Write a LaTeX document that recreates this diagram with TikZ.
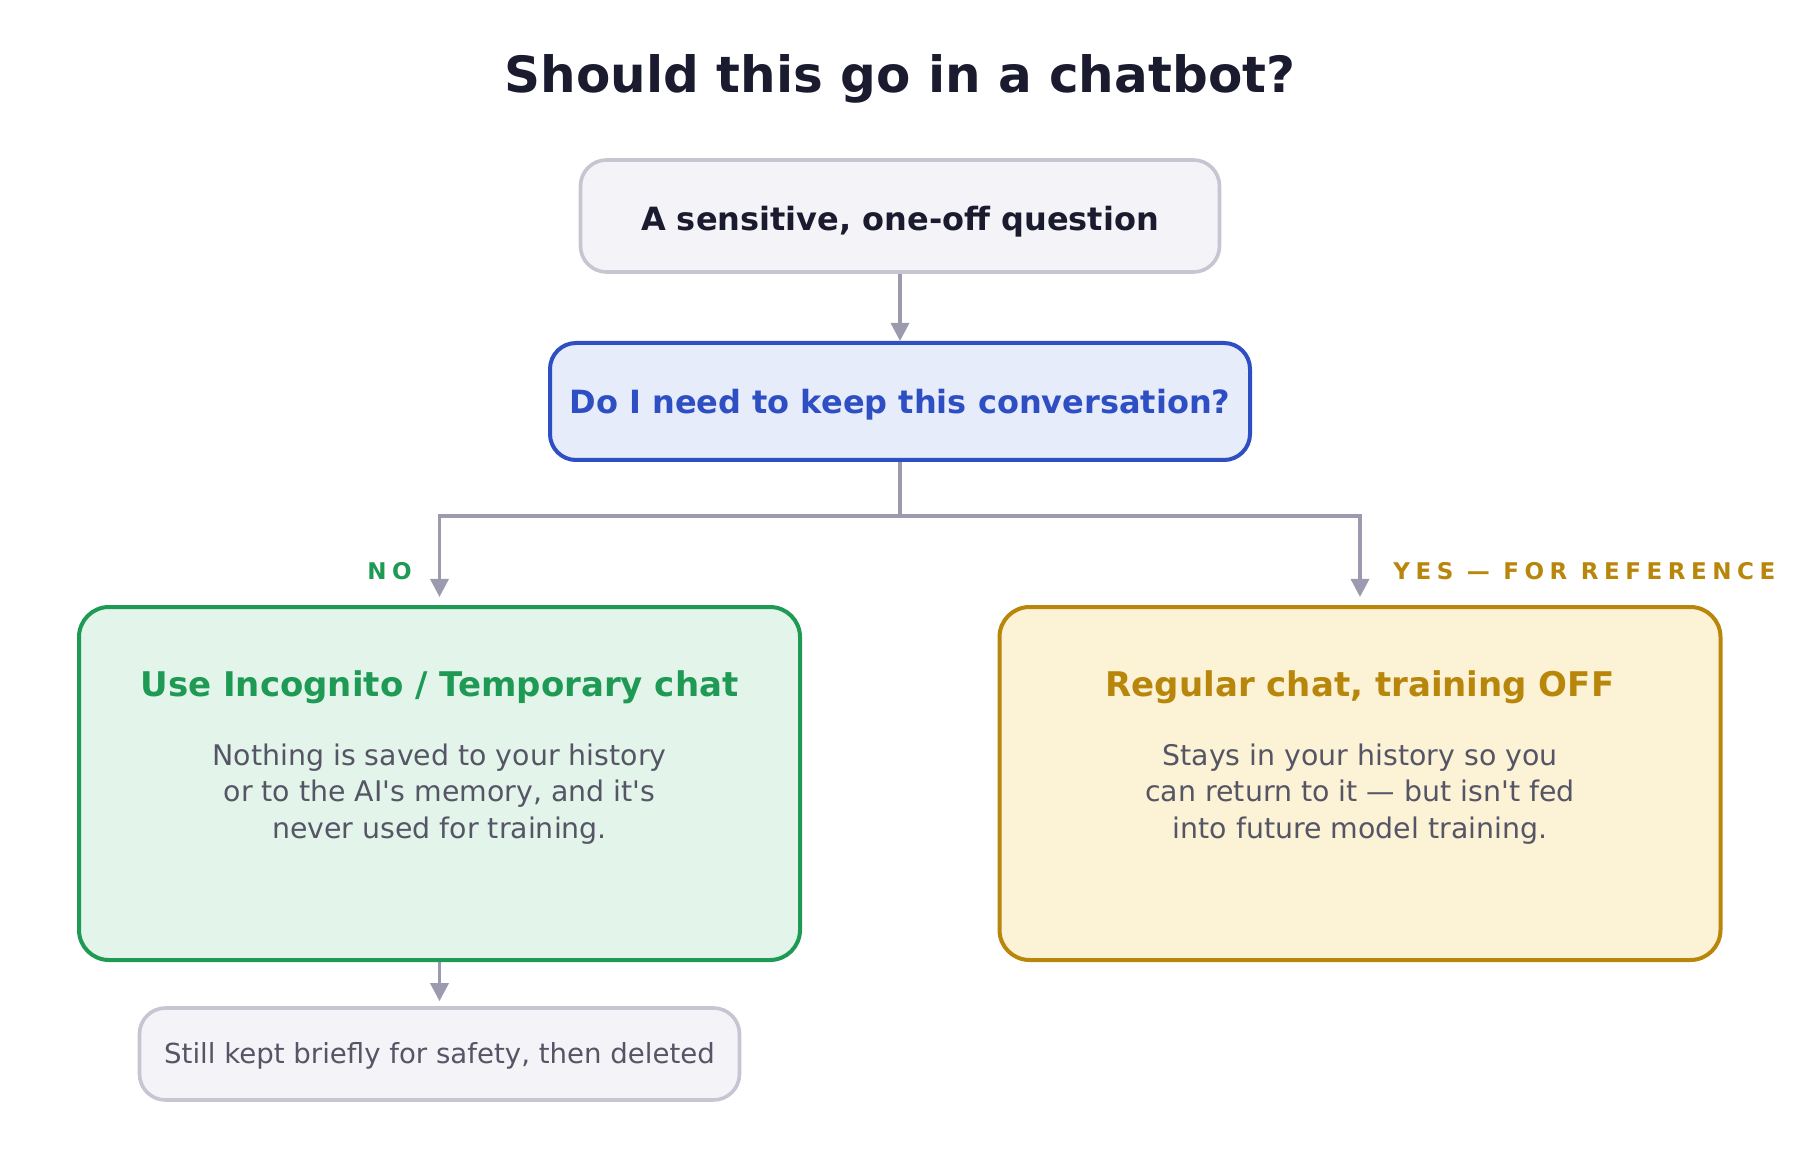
\documentclass[tikz,border=0pt]{standalone}
\usepackage{fontspec}
\setmainfont{DejaVu Sans}[Ligatures=TeXOff]
\usetikzlibrary{arrows.meta, positioning}

\definecolor{inkdark}{HTML}{1B1B2F}
\definecolor{boxgrey}{HTML}{F3F3F8}
\definecolor{edgegrey}{HTML}{C6C5D1}
\definecolor{linegrey}{HTML}{9C9AAF}
\definecolor{qblue}{HTML}{2E4EC4}
\definecolor{qbluefill}{HTML}{E7ECFA}
\definecolor{nogreen}{HTML}{1E9A55}
\definecolor{nofill}{HTML}{E3F5EA}
\definecolor{yesgold}{HTML}{B8860B}
\definecolor{yesfill}{HTML}{FCF2D5}
\definecolor{bodygrey}{HTML}{555566}

\tikzset{
    flowbox/.style={draw, rounded corners=13pt, line width=1.8pt, inner sep=0pt},
    startbox/.style={flowbox, draw=edgegrey, fill=boxgrey, minimum width=319.5pt, minimum height=56pt},
    askbox/.style={flowbox, line width=2pt, draw=qblue, fill=qbluefill, minimum width=350pt, minimum height=58.5pt},
    nobox/.style={flowbox, line width=2pt, rounded corners=15pt, draw=nogreen, fill=nofill, minimum width=360.5pt, minimum height=176.5pt},
    yesbox/.style={flowbox, line width=2pt, rounded corners=15pt, draw=yesgold, fill=yesfill, minimum width=360.5pt, minimum height=176.5pt},
    notebox/.style={flowbox, draw=edgegrey, fill=boxgrey, minimum width=300pt, minimum height=46pt},
    link/.style={draw=linegrey, line width=1.7pt},
    headtxt/.style={font=\fontsize{16}{19}\selectfont\bfseries, anchor=base, inner sep=0pt},
    opttxt/.style={font=\fontsize{17}{20}\selectfont\bfseries, anchor=base, inner sep=0pt},
    bodytxt/.style={font=\fontsize{14.2}{17}\selectfont, text=bodygrey, anchor=base, inner sep=0pt},
    branchtxt/.style={font=\fontsize{11.5}{13}\selectfont\bfseries\addfontfeature{LetterSpace=24}, anchor=base, inner sep=0pt},
}

\begin{document}
\begin{tikzpicture}[x=0.5pt, y=-0.5pt, >={Triangle[length=9pt, width=9pt]}]

\useasboundingbox (0,0) rectangle (1800,1176);

% Column centres (pixels)
\def\xM{900}
\def\xL{439.5}
\def\xR{1360}

% --- Title ---
\node[font=\fontsize{25}{30}\selectfont\bfseries, text=inkdark, anchor=base, inner sep=0pt] (title) at (\xM,93) {Should this go in a chatbot?};

% --- Question ---
\node[startbox] (start) at (\xM,216) {};
\node[headtxt, text=inkdark] (startlbl) at (\xM,231) {A sensitive, one-off question};

\node[askbox] (ask) at (\xM,401.5) {};
\node[headtxt, text=qblue] (asklbl) at (\xM,414) {Do I need to keep this conversation?};

\draw[link, ->] (start.south) -- (ask.north);

% --- Split ---
\coordinate (split) at (\xM,516);
\draw[link] (ask.south) -- (split);

% --- NO branch ---
\node[nobox] (nobox) at (\xL,783.5) {};
\node[opttxt, text=nogreen] (notitle) at (\xL,696) {Use Incognito / Temporary chat};
\foreach \y/\txt [count=\i] in {765/Nothing is saved to your history, 801/{or to the AI's memory, and it's}, 838/never used for training.} {
    \node[bodytxt] (nobody\i) at (\xL,\y) {\txt};
}
\draw[link, ->, shorten >=4pt] (split) -| (nobox.north);
\node[branchtxt, text=nogreen, anchor=base east] (nolbl) at (412,580) {NO};

\node[notebox] (keep) at (\xL,1054) {};
\node[bodytxt, font=\fontsize{13.8}{17}\selectfont] (keeplbl) at (\xL,1063) {Still kept briefly for safety, then deleted};
\draw[link, ->, shorten >=2.5pt] (nobox.south) -- (keep.north);

% --- YES branch ---
\node[yesbox] (yesbox) at (\xR,783.5) {};
\node[opttxt, text=yesgold] (yestitle) at (\xR,696) {Regular chat, training OFF};
\foreach \y/\txt [count=\i] in {765/Stays in your history so you, 801/can return to it — but isn't fed, 838/into future model training.} {
    \node[bodytxt] (yesbody\i) at (\xR,\y) {\txt};
}
\draw[link, ->, shorten >=4pt] (split) -| (yesbox.north);
\node[branchtxt, text=yesgold, anchor=base west] (yeslbl) at (1393,580) {YES — FOR REFERENCE};

\end{tikzpicture}
\end{document}
